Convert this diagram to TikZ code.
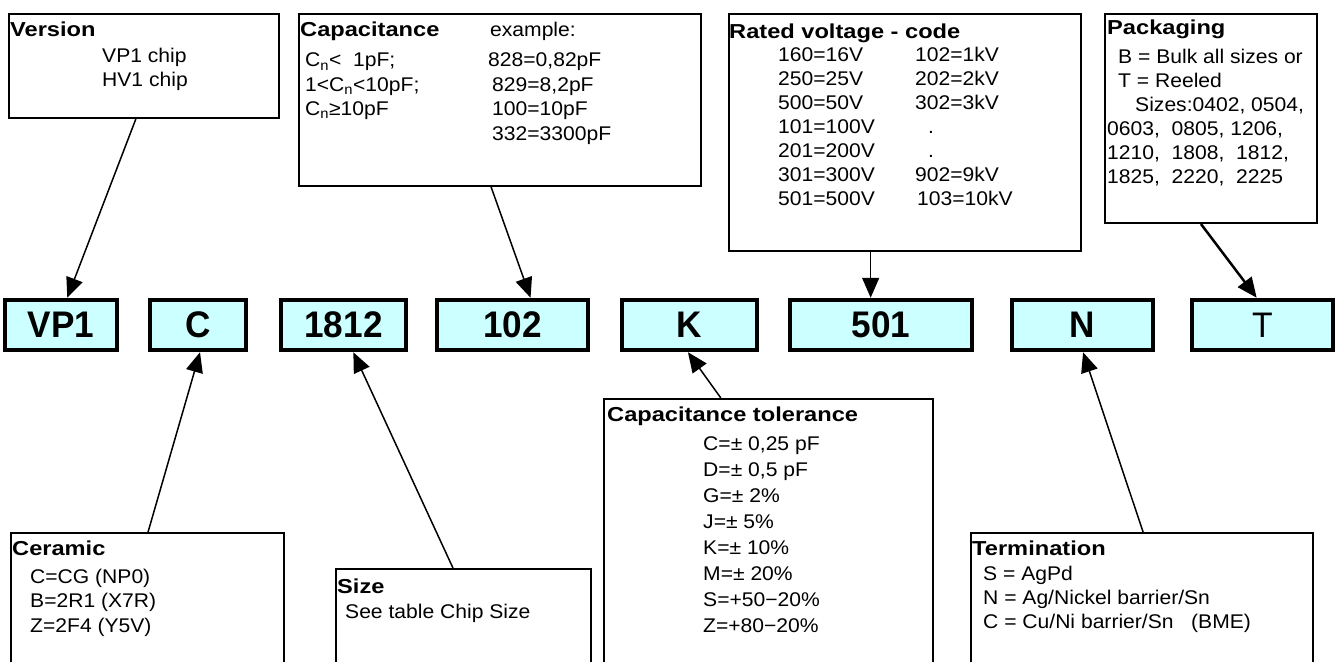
\documentclass[tikz,border=0pt]{standalone}
\usepackage{fontspec}
\setmainfont{Liberation Sans}
\newfontfamily\bodyfont[FakeStretch=1.065]{Liberation Sans}
\newfontfamily\headfont[FakeStretch=1.17]{Liberation Sans}
\newfontfamily\codefont[FakeStretch=0.95]{Liberation Sans}
\usetikzlibrary{arrows.meta,calc}
\definecolor{codefill}{HTML}{CCFFFF}
\newcommand\topfix{\rule{0pt}{15pt}}
\begin{document}
\begin{tikzpicture}[x=1pt,y=-1pt,
  info/.style={draw, line width=2pt, fill=white, inner sep=0, anchor=north west},
  code/.style={draw, line width=4.5pt, fill=codefill, inner sep=0, minimum height=50,
    font=\codefont\bfseries\fontsize{37}{40}\selectfont},
  txt/.style={inner sep=0, anchor=north west, align=left,
    font=\bodyfont\fontsize{19.8}{24}\selectfont},
  head/.style={inner sep=0, anchor=base west,
    font=\headfont\bfseries\fontsize{20.2}{24}\selectfont},
  arr/.style={line width=1.5pt, -{Triangle[length=20pt,width=17pt]}}]
\useasboundingbox (0,0) rectangle (1343,661);
\clip (0,0) rectangle (1343,661);

% ---- top info boxes
\node[info, minimum width=270, minimum height=104] (ver) at (8,13) {};
\node[head] (verh) at (10,37) {Version};
\node[txt] (vert) at (102,47) {\topfix VP1 chip\\HV1 chip};

\node[info, minimum width=402, minimum height=172] (cap) at (298,13) {};
\node[head] (caph) at (300,37) {Capacitance};
\node[txt, anchor=base west] (capex) at (490,37) {example:};
\node[txt, font=\bodyfont\fontsize{19.8}{24.4}\selectfont] (capl) at (305,51.7)
  {\topfix C\textsubscript{n}<\ \ 1pF;\\1<C\textsubscript{n}<10pF;\\C\textsubscript{n}≥10pF};
\node[txt, font=\bodyfont\fontsize{19.8}{24.4}\selectfont] (capr) at (488,51.7)
  {\topfix 828=0,82pF\\\hspace*{4pt}829=8,2pF\\\hspace*{4pt}100=10pF\\\hspace*{4pt}332=3300pF};

\node[info, minimum width=352, minimum height=237] (rv) at (728,13) {};
\node[head] (rvh) at (729,38) {Rated voltage - code};
\node[txt, font=\bodyfont\fontsize{19.8}{23.9}\selectfont] (rvl) at (778,46.7)
  {\topfix 160=16V\\250=25V\\500=50V\\101=100V\\201=200V\\301=300V\\501=500V};
\node[txt, font=\bodyfont\fontsize{19.8}{23.9}\selectfont] (rvr) at (915,46.7)
  {\topfix 102=1kV\\202=2kV\\302=3kV\\\hspace*{13pt}.\\\hspace*{13pt}.\\902=9kV\\\hspace*{2pt}103=10kV};

\node[info, minimum width=212, minimum height=209] (pk) at (1104,13) {};
\node[head] (pkh) at (1107,35) {Packaging};
\node[txt] (pkt) at (1107,48)
  {\topfix\hspace*{11pt}B = Bulk all sizes or\\\hspace*{11pt}T = Reeled\\\hspace*{28pt}Sizes:0402, 0504,\\0603,\ \ 0805, 1206,\\1210,\ \ 1808,\ \ 1812,\\1825,\ \ 2220,\ \ 2225};

% ---- code boxes
\node[code, minimum width=112] (vp1) at (61,325) {VP1};
\node[code, minimum width=96] (c) at (198,325) {C};
\node[code, minimum width=125] (s1812) at (343.5,325) {1812};
\node[code, minimum width=151] (c102) at (512.5,325) {102};
\node[code, minimum width=135] (k) at (689.5,325) {K};
\node[code, minimum width=182] (v501) at (881,325) {501};
\node[code, minimum width=141] (n) at (1082.5,325) {N};
\node[code, minimum width=141, font=\codefont\fontsize{35.5}{40}\selectfont] (t) at (1262.5,325) {T};

% ---- bottom info boxes
\node[info, minimum width=273, minimum height=150] (cer) at (10,532) {};
\node[head] (cerh) at (12,555) {Ceramic};
\node[txt, font=\bodyfont\fontsize{19.8}{24.5}\selectfont] (cert) at (30,568)
  {\topfix C=CG (NP0)\\B=2R1 (X7R)\\Z=2F4 (Y5V)};

\node[info, minimum width=255, minimum height=115] (sz) at (335,568) {};
\node[head] (szh) at (337,593) {Size};
\node[txt] (szt) at (345,603) {\topfix See table Chip Size};

\node[info, minimum width=329, minimum height=285] (tol) at (603,398) {};
\node[head] (tolh) at (607,421.7) {Capacitance tolerance};
\node[txt, font=\bodyfont\fontsize{19.8}{26}\selectfont] (tolt) at (703,435)
  {\topfix C=± 0,25 pF\\D=± 0,5 pF\\G=± 2\%\\J=± 5\%\\K=± 10\%\\M=± 20\%\\S=+50−20\%\\Z=+80−20\%};

\node[info, minimum width=342, minimum height=150] (term) at (970,532) {};
\node[head] (termh) at (972,555) {Termination};
\node[txt] (termt) at (983,565)
  {\topfix S = AgPd\\N = Ag/Nickel barrier/Sn\\C = Cu/Ni barrier/Sn\ \ \ (BME)};

% ---- connectors
\draw[arr] ($(ver.south west)!0.47!(ver.south east)$) -- ($(vp1.north west)!0.554!(vp1.north east)$);
\draw[arr] ($(cap.south west)!0.478!(cap.south east)$) -- ($(c102.north west)!0.616!(c102.north east)$);
\draw[arr] ($(rv.south west)!0.403!(rv.south east)$) coordinate (rvs) -- (rvs |- v501.north);
\draw[arr, line width=2.5pt] ($(pk.south west)!0.453!(pk.south east)$) -- ($(t.north west)!0.46!(t.north east)$);
\draw[arr] ($(cer.north west)!0.502!(cer.north east)$) -- ($(c.south west)!0.52!(c.south east)$);
\draw[arr] ($(sz.north west)!0.459!(sz.north east)$) -- ($(s1812.south west)!0.576!(s1812.south east)$);
\draw[arr] ($(tol.north west)!0.356!(tol.north east)$) -- ($(k.south west)!0.489!(k.south east)$);
\draw[arr] ($(term.north west)!0.503!(term.north east)$) -- ($(n.south west)!0.504!(n.south east)$);
\end{tikzpicture}
\end{document}
